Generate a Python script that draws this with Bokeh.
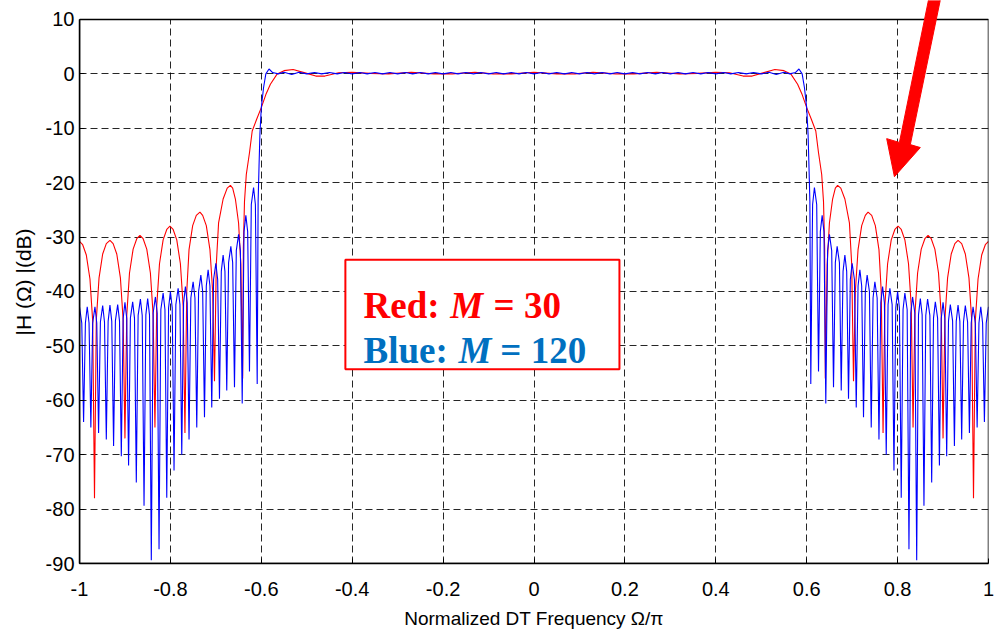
from bokeh.plotting import figure
from bokeh.embed import file_html
from bokeh.resources import INLINE
from bokeh.models import (Range1d, FixedTicker, CustomJSTickFormatter, BoxAnnotation,
                          Label, PolyAnnotation)

# ---------------- data (positive frequencies; response is symmetric) -------------
x_ticks = [-1, -0.8, -0.6, -0.4, -0.2, 0, 0.2, 0.4, 0.6, 0.8, 1]
y_ticks = [10, 0, -10, -20, -30, -40, -50, -60, -70, -80, -90]

red_label = "Red:"
blue_label = "Blue:"
red_M = "= 30"
blue_M = "= 120"

# Red: M = 30
red_x_pos = [0.000, 0.050, 0.090, 0.130, 0.180, 0.220, 0.270, 0.320, 0.360, 0.400, 0.430,
             0.460, 0.480, 0.500, 0.530, 0.550, 0.565, 0.580, 0.590, 0.600, 0.610, 0.620,
             0.626, 0.633, 0.637, 0.6395, 0.641,
             0.645, 0.650, 0.657, 0.663, 0.668, 0.675, 0.684, 0.694, 0.699, 0.703,
             0.707, 0.713, 0.721, 0.729, 0.735, 0.743, 0.751, 0.759, 0.764, 0.768,
             0.772, 0.778, 0.786, 0.794, 0.801, 0.808, 0.816, 0.824, 0.830, 0.834,
             0.838, 0.844, 0.852, 0.860, 0.867, 0.874, 0.882, 0.890, 0.896, 0.900,
             0.904, 0.910, 0.918, 0.926, 0.933, 0.941, 0.949, 0.957, 0.963, 0.967,
             0.971, 0.977, 0.985, 0.993, 1.000]
red_db_pos = [0.3, 0.0, 0.0, 0.3, 0.0, 0.0, 0.3, 0.0, 0.1, 0.3, 0.2,
              -0.4, -0.4, 0.1, 0.8, 0.6, 0.0, -1.9, -3.8, -6.2, -8.3, -10.5,
              -14.5, -18.5, -23.5, -32.0, -56.0,
              -35.0, -27.4, -23.0, -21.0, -20.5, -21.0, -23.0, -27.4, -35.0, -56.5,
              -40.0, -32.3, -27.9, -26.0, -25.4, -26.0, -27.9, -32.3, -40.0, -66.0,
              -42.6, -34.9, -30.5, -28.6, -28.0, -28.6, -30.5, -34.9, -42.6, -65.0,
              -44.3, -36.6, -32.2, -30.3, -29.7, -30.3, -32.2, -36.6, -44.3, -67.0,
              -45.2, -37.5, -33.1, -31.2, -30.6, -31.2, -33.1, -37.5, -45.2, -78.0,
              -45.4, -37.7, -33.3, -31.4, -30.8]

# Blue: M = 120
blue_x_pos = [0.000, 0.017, 0.033, 0.050, 0.067, 0.083, 0.100, 0.117, 0.133, 0.150, 0.167,
              0.183, 0.200, 0.217, 0.233, 0.250, 0.267, 0.283, 0.300, 0.317, 0.333, 0.350,
              0.367, 0.383, 0.400, 0.417, 0.433, 0.450, 0.467, 0.483, 0.500, 0.517, 0.533,
              0.550, 0.563, 0.575, 0.583, 0.590, 0.595, 0.600, 0.603, 0.605, 0.607, 0.609,
              0.613, 0.617, 0.622, 0.626,
              0.630, 0.634, 0.638, 0.642,
              0.646, 0.650, 0.655, 0.659,
              0.663, 0.667, 0.672, 0.676,
              0.680, 0.684, 0.688, 0.692,
              0.696, 0.700, 0.705, 0.709,
              0.713, 0.717, 0.721, 0.725,
              0.729, 0.733, 0.738, 0.742,
              0.746, 0.750, 0.755, 0.759,
              0.763, 0.767, 0.771, 0.775,
              0.779, 0.783, 0.788, 0.792,
              0.796, 0.800, 0.804, 0.808,
              0.812, 0.816, 0.821, 0.825,
              0.829, 0.833, 0.838, 0.842,
              0.846, 0.850, 0.854, 0.858,
              0.862, 0.866, 0.871, 0.875,
              0.879, 0.883, 0.888, 0.892,
              0.896, 0.900, 0.904, 0.908,
              0.912, 0.916, 0.921, 0.925,
              0.929, 0.933, 0.937, 0.941,
              0.945, 0.949, 0.954, 0.958,
              0.962, 0.966, 0.971, 0.975,
              0.979, 0.983, 0.987, 0.991,
              0.995, 1.000]
blue_db_pos = [0.0, 0.25, 0.0, 0.25, 0.0, 0.25, 0.0, 0.25, 0.0, 0.25, 0.0,
               0.25, 0.0, 0.25, 0.0, 0.25, 0.0, 0.25, 0.0, 0.25, 0.0, 0.25,
               0.0, 0.25, 0.0, 0.25, 0.0, 0.25, 0.0, 0.25, 0.0, 0.3, -0.1,
               0.3, 0.0, 0.25, 0.9, 0.0, -2.5, -6.2, -11.0, -17.0, -23.5, -57.0,
               -24.0, -20.9, -24.0, -54.7,
               -29.0, -26.0, -29.0, -60.6,
               -32.5, -29.5, -32.5, -57.6,
               -34.7, -31.7, -34.7, -58.2,
               -36.3, -33.3, -36.3, -59.7,
               -37.8, -34.8, -37.8, -61.3,
               -39.0, -36.0, -39.0, -63.1,
               -40.0, -37.0, -40.0, -65.0,
               -41.2, -38.2, -41.2, -67.2,
               -42.1, -39.1, -42.1, -70.0,
               -42.4, -39.4, -42.4, -72.9,
               -43.0, -40.0, -43.0, -77.9,
               -43.3, -40.3, -43.3, -87.4,
               -44.0, -41.0, -44.0, -89.4,
               -44.3, -41.3, -44.3, -79.4,
               -44.4, -41.4, -44.4, -75.1,
               -44.9, -41.9, -44.9, -72.0,
               -45.0, -42.0, -45.0, -70.3,
               -45.4, -42.4, -45.4, -68.4,
               -45.5, -42.5, -45.5, -67.2,
               -45.6, -42.6, -45.6, -66.0,
               -45.8, -42.8, -45.8, -65.0,
               -45.8, -42.8, -45.8, -64.0,
               -45.8, -42.8]


def mirror(xs, ys):
    return [-x for x in xs[:0:-1]] + xs, ys[:0:-1] + ys


red_x, red_db = mirror(red_x_pos, red_db_pos)
blue_x, blue_db = mirror(blue_x_pos, blue_db_pos)

# ---------------- figure ----------------
SANS = "'Liberation Sans Narrow', 'Arial Narrow', 'Liberation Sans', Arial, sans-serif"
Y_TOP = 13.4926  # extra room above 10 dB so the arrow can reach the top edge of the page

p = figure(width=996, height=631, output_backend="svg", toolbar_location=None,
           x_range=Range1d(-1, 1), y_range=Range1d(-90, Y_TOP),
           min_border_left=79, min_border_right=8, min_border_top=0, min_border_bottom=68)
p.background_fill_color = "white"
p.border_fill_color = "white"
p.outline_line_color = None

p.xaxis.ticker = FixedTicker(ticks=x_ticks)
p.yaxis.ticker = FixedTicker(ticks=y_ticks)
p.xaxis.formatter = CustomJSTickFormatter(code="return Number(tick.toFixed(1)).toString();")
p.yaxis.formatter = CustomJSTickFormatter(code="return Number(tick.toFixed(1)).toString();")
p.yaxis.bounds = (-90, 10)
for ax in (p.xaxis[0], p.yaxis[0]):
    ax.axis_line_color = "black"
    ax.axis_line_width = 1.5
    ax.major_tick_in = 5
    ax.major_tick_out = 0
    ax.minor_tick_line_color = None
    ax.major_tick_line_color = "black"
    ax.major_label_text_font = SANS
    ax.major_label_text_font_size = "20px"
    ax.major_label_text_color = "black"
    ax.axis_label_text_font = SANS
    ax.axis_label_text_font_style = "normal"
    ax.axis_label_text_color = "black"
p.xaxis.axis_label_text_font_size = "19px"
p.yaxis.axis_label_text_font_size = "21px"
p.xaxis.major_label_standoff = 18
p.xaxis.axis_label_standoff = 9
p.yaxis.major_label_standoff = 5
p.yaxis.axis_label_standoff = 8
p.xaxis.axis_label = "Normalized DT Frequency Ω/π"
p.yaxis.axis_label = "|H (Ω) |(dB)"

p.grid.grid_line_color = "black"
p.grid.grid_line_alpha = 0.85
p.grid.grid_line_dash = "7 4"
p.grid.grid_line_width = 1
p.ygrid.bounds = (-90, 10)
for g in (p.xgrid[0], p.ygrid[0]):
    if "cross_bounds" in g.properties():
        g.cross_bounds = (-1, 1) if g is p.ygrid[0] else (-90, 10)

p.line(red_x, red_db, line_color="#FF0000", line_width=1.1)
p.line(blue_x, blue_db, line_color="#0000FF", line_width=1.1)

# plot box (outline limited to the axes area)
p.add_layout(BoxAnnotation(left=-1, right=1, top=10, bottom=-90, fill_alpha=0.0,
                           line_color="black", line_alpha=1.0, line_width=1.5))

# legend box
p.add_layout(BoxAnnotation(left=-0.415, right=0.188, top=-34.15, bottom=-54.3,
                           fill_color="white", fill_alpha=1.0,
                           line_color="#FF0000", line_alpha=1.0, line_width=2))
SERIF = "Liberation Serif"
for txt, xx, yy, col, style in [
        (red_label, -0.375, -42.6, "#FF0000", "bold"),
        ("M", -0.184, -42.6, "#FF0000", "bold italic"),
        (red_M, -0.089, -42.6, "#FF0000", "bold"),
        (blue_label, -0.375, -50.9, "#0070C0", "bold"),
        ("M", -0.166, -50.9, "#0070C0", "bold italic"),
        (blue_M, -0.074, -50.9, "#0070C0", "bold")]:
    p.add_layout(Label(x=xx, y=yy, text=txt, text_font=SERIF, text_font_size="37px",
                       text_font_style=style, text_color=col, text_baseline="alphabetic",
                       text_align="left"))

# red arrow annotation
p.add_layout(PolyAnnotation(xs=[0.868, 0.894, 0.828, 0.850, 0.793, 0.776, 0.804],
                            ys=[13.6, 13.6, -13.0, -13.54, -18.9, -11.9, -12.6],
                            fill_color="#FF0000", fill_alpha=1.0, line_color="#FF0000",
                            line_alpha=1.0, line_width=1))

open("out.html", "w").write(file_html(p, INLINE))
